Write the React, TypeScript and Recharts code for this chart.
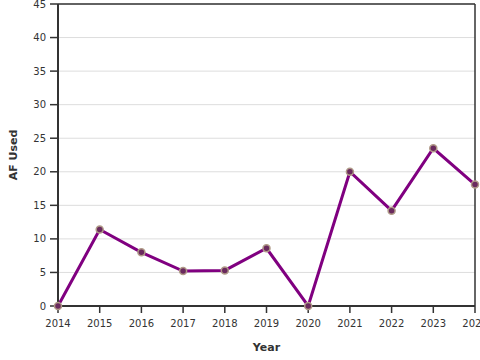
import { LineChart, Line, XAxis, YAxis, CartesianGrid, ReferenceLine } from 'recharts';

const years = [2014, 2015, 2016, 2017, 2018, 2019, 2020, 2021, 2022, 2023, 2024];
const afUsed = [0, 11.4, 8, 5.2, 5.3, 8.6, 0, 20, 14.2, 23.5, 18.1];
const yTicks = [0, 5, 10, 15, 20, 25, 30, 35, 40, 45];

const data = years.map((year, i) => ({ year, af: afUsed[i] }));

const FONT = '"DejaVu Sans", sans-serif';

export default function App() {
  return (
    <div style={{ position: 'absolute', left: 0, top: 0, width: 480, height: 360, background: '#fff' }}>
      <LineChart width={480} height={360} data={data} margin={{ top: 4, right: 5, bottom: 0, left: 0 }}>
        <CartesianGrid vertical={false} stroke="#dddddd" strokeWidth={1} />
        <XAxis
          dataKey="year"
          type="number"
          domain={[2014, 2024]}
          ticks={years}
          height={54}
          tickSize={7}
          tickMargin={7}
          stroke="#333"
          strokeWidth={2}
          tick={{ fontSize: 10, fill: '#333', fontFamily: FONT }}
          tickLine={{ stroke: '#333', strokeWidth: 1.5 }}
          interval={0}
          label={{ value: 'Year', position: 'insideBottom', offset: 9, style: { fontSize: 11, fontWeight: 'bold', fill: '#333', fontFamily: FONT } }}
        />
        <YAxis
          type="number"
          domain={[0, 45]}
          ticks={yTicks}
          width={58}
          tickSize={8}
          tickMargin={4}
          stroke="#333"
          strokeWidth={2}
          tick={{ fontSize: 10, fill: '#333', fontFamily: FONT }}
          tickLine={{ stroke: '#333', strokeWidth: 1.5 }}
          interval={0}
          label={{
            content: ({ viewBox }: any) => {
              const cx = 14;
              const cy = viewBox.y + viewBox.height / 2;
              return (
                <text
                  x={cx}
                  y={cy}
                  transform={`rotate(-90 ${cx} ${cy})`}
                  textAnchor="middle"
                  dominantBaseline="middle"
                  style={{ fontSize: 11, fontWeight: 'bold', fill: '#333', fontFamily: FONT }}
                >
                  AF Used
                </text>
              );
            },
          }}
        />
        <ReferenceLine y={45} stroke="#333" strokeWidth={1.5} />
        <ReferenceLine x={2024} stroke="#333" strokeWidth={1.5} />
        <Line
          type="linear"
          dataKey="af"
          stroke="#800080"
          strokeWidth={3}
          dot={{ r: 3.5, fill: '#6a2a5e', stroke: '#b09a88', strokeWidth: 1.5 }}
          isAnimationActive={false}
        />
      </LineChart>
    </div>
  );
}
